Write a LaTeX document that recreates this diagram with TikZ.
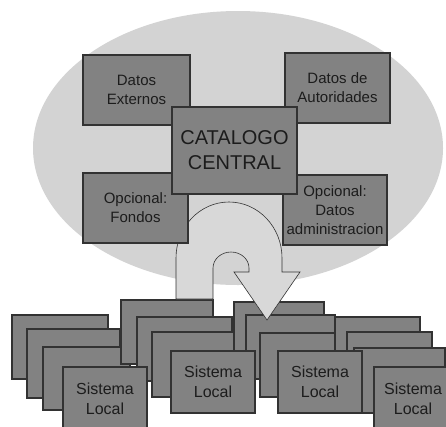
\documentclass[tikz,border=0pt]{standalone}
\usepackage{fontspec}
\setmainfont{Liberation Sans}
\definecolor{boxgray}{RGB}{130,130,130}
\definecolor{edgegray}{RGB}{50,50,50}
\definecolor{areagray}{RGB}{211,211,211}
\definecolor{arrowgray}{RGB}{216,216,216}
\definecolor{textgray}{RGB}{28,28,28}
\usepackage{tikz}
\tikzstyle{databox} = [
    draw=edgegray,
    line width=1.8pt,
    fill=boxgray,
    text=textgray,
    align=center,
    inner sep=1pt,
    font=\fontsize{15}{19}\selectfont
]
\tikzstyle{localbox} = [
    databox,
    minimum width=88pt,
    minimum height=64pt,
    font=\fontsize{16}{20}\selectfont
]
\tikzstyle{turnarrow} = [
    draw=gray!40!black,
    line width=0.6pt,
    fill=arrowgray
]

\begin{document}
\begin{tikzpicture}[x=1pt, y=-1pt]
    \useasboundingbox (0,0) rectangle (446,426);
    \clip (0,0) rectangle (446,426);

    % Catalog area
    \fill[areagray] (238,148) ellipse [x radius=205pt, y radius=137pt];

    % Local systems, back to front
    \node[localbox, minimum width=96pt] (loc1a) at (60,347) {};
    \node[localbox, minimum width=93pt, minimum height=69pt] (loc1b) at (73.5,363.5) {};
    \node[localbox, minimum width=87pt, minimum height=63pt] (loc1c) at (86.5,378.5) {};
    \node[localbox, minimum width=92pt] (loc2a) at (167,332) {};
    \node[localbox, minimum width=95pt] (loc2b) at (184.5,349) {};
    \node[localbox, minimum width=90pt, minimum height=65pt] (loc2c) at (197,364.5) {};
    \node[localbox, minimum width=84pt, minimum height=63pt] (loc1d) at (105,398.5) {Sistema\\Local};
    \node[localbox, minimum width=90pt] (loc3a) at (279,334) {};
    \node[localbox, minimum width=89pt] (loc3b) at (290.5,347) {};
    \node[localbox, minimum width=87pt] (loc3c) at (303.5,365) {};
    \node[localbox, minimum width=84pt, minimum height=62pt] (loc2d) at (213,382) {Sistema\\Local};
    \node[localbox, minimum width=85pt, minimum height=63pt] (loc4a) at (377.5,348.5) {};
    \node[localbox, minimum width=85pt, minimum height=63pt] (loc4b) at (389.5,363.5) {};
    \node[localbox, minimum width=91pt, minimum height=65pt] (loc4c) at (399.5,380.5) {};
    \node[localbox, minimum width=84pt, minimum height=62pt] (loc3d) at (320,382) {Sistema\\Local};
    \node[localbox, minimum width=78pt, minimum height=63pt] (loc4d) at (413,398.5) {Sistema\\Local};

    % U-turn arrow
    \draw[turnarrow] (176,299) -- (176,258)
        arc[start angle=180, end angle=0, x radius=53pt, y radius=56pt]
        -- (282,272) -- (300,272) -- (267,320) -- (234,272) -- (249,272) -- (249,268)
        arc[start angle=0, end angle=180, x radius=18pt, y radius=16pt]
        -- (213,299) -- cycle;

    % Data sources
    \node[databox, minimum width=107pt, minimum height=70pt] (externos) at (136.5,90) {Datos\\Externos};
    \node[databox, minimum width=105pt, minimum height=70pt] (autoridades) at (337.5,88) {Datos de\\Autoridades};
    \node[databox, minimum width=105pt, minimum height=70pt] (fondos) at (135.5,208) {Opcional:\\Fondos};
    \node[databox, minimum width=104pt, minimum height=70pt] (admin) at (335,210) {Opcional:\\Datos\\administracion};

    % Central catalog
    \node[databox, minimum width=125pt, minimum height=87pt, font=\fontsize{20}{25}\selectfont] (central) at (234.5,150.5) {CATALOGO\\CENTRAL};
\end{tikzpicture}
\end{document}
